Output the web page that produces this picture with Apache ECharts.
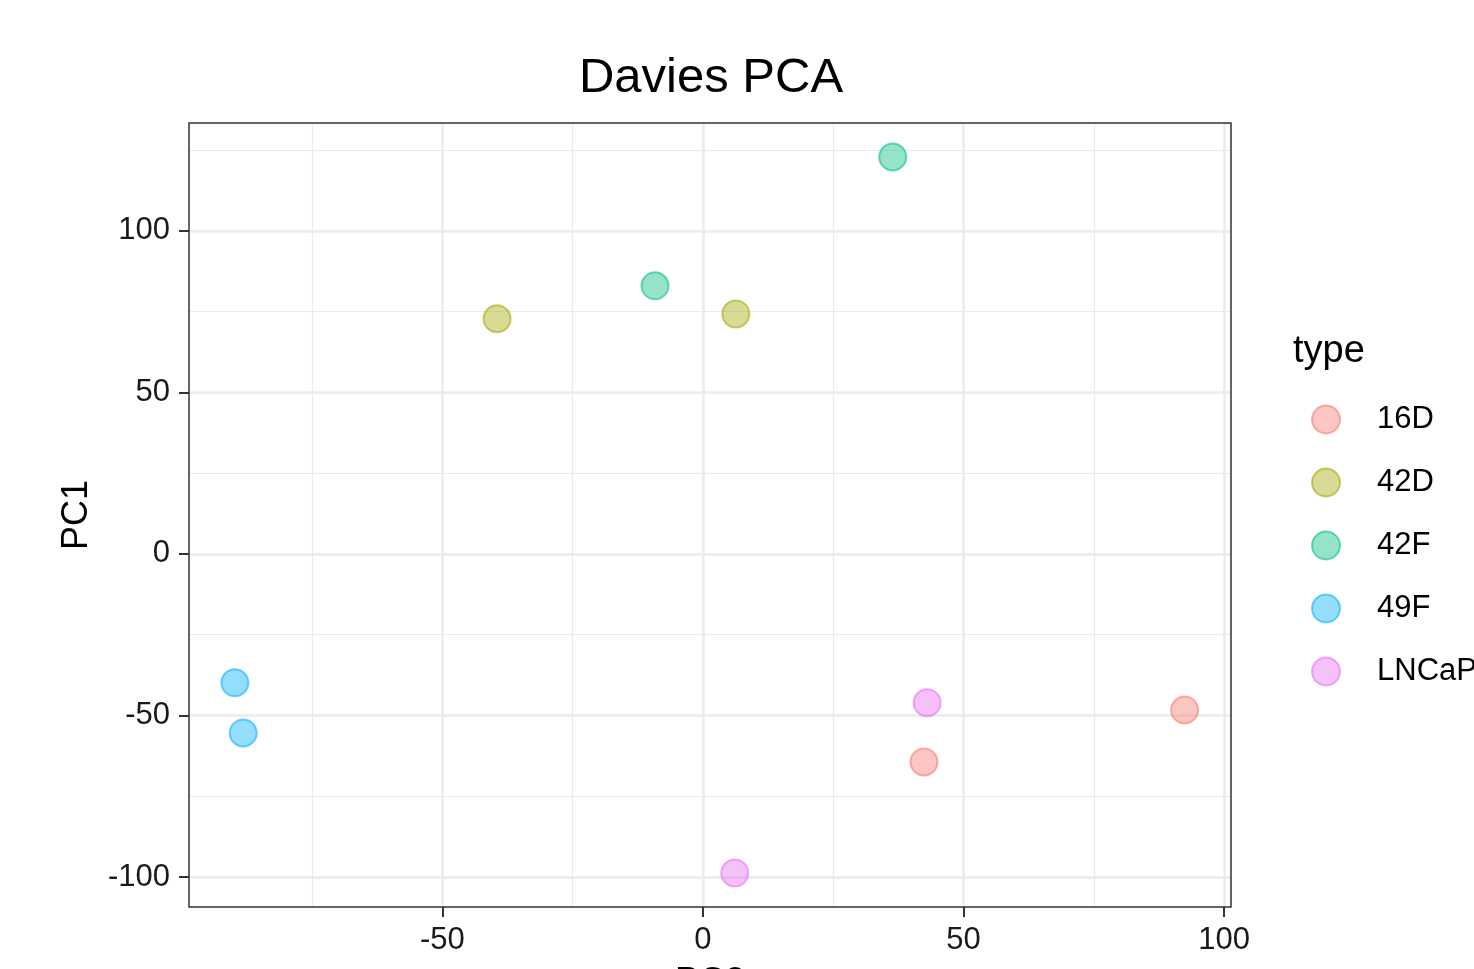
<!DOCTYPE html>
<html>
<head>
<meta charset="utf-8">
<title>Davies PCA</title>
<script src="https://cdn.jsdelivr.net/npm/echarts@6/dist/echarts.min.js"></script>
<style>
	html, body {
		margin: 0;
		padding: 0;
		background: #fff;
	}
	#chart {
		width: 1474px;
		height: 969px;
	}
</style>
</head>
<body>
<div id="chart"></div>
<script>
	// groups, in legend order
	let types = ['16D', '42D', '42F', '49F', 'LNCaP'];
	let colors = ['#F8766D', '#A3A500', '#00BF7D', '#00B0F6', '#E76BF3'];

	// [PC2, PC1] for each sample
	let pts16D = [[92.4, -48.3], [42.4, -64.4]];
	let pts42D = [[-39.5, 72.8], [6.3, 74.3]];
	let pts42F = [[36.4, 122.9], [-9.2, 83.0]];
	let pts49F = [[-89.8, -39.9], [-88.2, -55.4]];
	let ptsLNCaP = [[43.0, -46.1], [6.1, -98.8]];

	let xMajor = [-50, 0, 50, 100];
	let xMinor = [-75, -25, 25, 75];
	let yMajor = [-100, -50, 0, 50, 100];
	let yMinor = [-75, -25, 25, 75, 125];

	let xRange = [-98.6, 101.3];
	let yRange = [-109.3, 133.4];

	let groups = [pts16D, pts42D, pts42F, pts49F, ptsLNCaP];

	let font = '"Liberation Sans", Arial, Helvetica, sans-serif';

	let series = [];
	groups.forEach((data, i) => {
		series.push({
			type: 'scatter',
			name: types[i],
			data: data,
			symbolSize: 27,
			itemStyle: {
				color: echarts.color.modifyAlpha(colors[i], 0.52),
				borderColor: echarts.color.modifyAlpha(colors[i], 0.7),
				borderWidth: 2,
			},
			emphasis: { disabled: true },
		});
	});

	let gridLine = (w) => ({ show: true, lineStyle: { color: '#ebebeb', width: w } });

	let option = {
		animation: false,
		backgroundColor: '#fff',
		textStyle: { fontFamily: font },
		title: [{
			text: 'Davies PCA',
			left: 706,
			top: 49,
			textAlign: 'center',
			textStyle: { fontFamily: font, fontSize: 49, fontWeight: 'normal', color: '#000' },
		}, {
			text: 'type',
			left: 1288,
			top: 328,
			textStyle: { fontFamily: font, fontSize: 38, fontWeight: 'normal', color: '#000' },
		}],
		legend: {
			orient: 'vertical',
			left: 1306,
			top: 399,
			icon: 'circle',
			itemWidth: 28,
			itemHeight: 28,
			itemGap: 32,
			data: types,
			textStyle: {
				fontFamily: font,
				fontSize: 31,
				color: '#000',
				padding: [0, 0, 0, 32],
			},
		},
		grid: {
			left: 189,
			right: 243,
			top: 123,
			bottom: 62,
			outerBoundsMode: 'none',
			containLabel: false,
			show: true,
			borderColor: '#333',
			borderWidth: 1.5,
			backgroundColor: 'transparent',
			z: 3,
		},
		xAxis: [{
			type: 'value',
			min: xRange[0],
			max: xRange[1],
			name: 'PC2',
			nameLocation: 'middle',
			nameGap: 58,
			nameTextStyle: { fontFamily: font, fontSize: 36, color: '#000' },
			axisLine: { show: false, onZero: false },
			axisTick: { show: true, customValues: xMajor, length: 10, lineStyle: { color: '#333', width: 2 } },
			axisLabel: { customValues: xMajor, fontFamily: font, fontSize: 31, color: '#1a1a1a', margin: 18 },
			splitLine: gridLine(2.5),
		}, {
			type: 'value',
			min: xRange[0],
			max: xRange[1],
			position: 'bottom',
			axisLine: { show: false, onZero: false },
			axisTick: { show: false, customValues: xMinor },
			axisLabel: { show: false, customValues: xMinor },
			splitLine: gridLine(1.2),
		}],
		yAxis: [{
			type: 'value',
			min: yRange[0],
			max: yRange[1],
			name: 'PC1',
			nameLocation: 'middle',
			nameGap: 94,
			nameRotate: 90,
			nameTextStyle: { fontFamily: font, fontSize: 36, color: '#000' },
			axisLine: { show: false, onZero: false },
			axisTick: { show: true, customValues: yMajor, length: 10, lineStyle: { color: '#333', width: 2 } },
			axisLabel: { customValues: yMajor, fontFamily: font, fontSize: 31, color: '#1a1a1a', margin: 19 },
			splitLine: gridLine(2.5),
		}, {
			type: 'value',
			min: yRange[0],
			max: yRange[1],
			position: 'left',
			axisLine: { show: false, onZero: false },
			axisTick: { show: false, customValues: yMinor },
			axisLabel: { show: false, customValues: yMinor },
			splitLine: gridLine(1.2),
		}],
		series: series,
	};

	let chart = echarts.init(document.getElementById('chart'));
	chart.setOption(option);
	window.addEventListener('resize', function() {
		chart.resize();
	});
</script>
</body>
</html>
